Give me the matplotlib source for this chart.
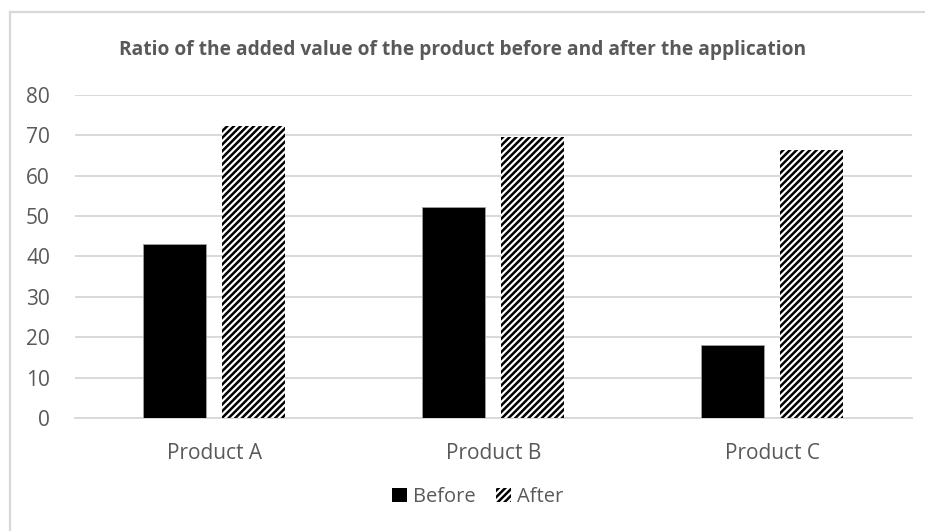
import numpy as np
import matplotlib
matplotlib.use('Agg')
import matplotlib.pyplot as plt
from matplotlib.lines import Line2D
from matplotlib.patches import Patch

# chart data
products = ['Product A', 'Product B', 'Product C']
before = [43.2, 52.3, 18.1]
after = [72.3, 69.7, 66.5]
series_names = ['Before', 'After']

plt.rcParams['font.family'] = ['Open Sans', 'DejaVu Sans']
plt.rcParams['hatch.linewidth'] = 1.8

grey_txt = '#595959'
grid_col = '#d9d9d9'

fig = plt.figure(figsize=(9.25, 5.31), dpi=100)
ax = fig.add_axes([0.081, 0.2128, 0.905, 0.6083])

x = np.arange(len(products))
w = 0.226
ax.bar(x - 0.143, before, width=w, color='black', edgecolor='#a0a0a0', linewidth=0.6, zorder=3)
ax.bar(x + 0.141, after, width=w, color='white', edgecolor='black', linewidth=0, hatch='/////', zorder=3)

ax.set_xlim(-0.5, 2.5)
ax.set_ylim(0, 80)
ax.set_yticks(range(0, 81, 10))
ax.set_xticks(x)
ax.set_xticklabels(products)
ax.yaxis.grid(True, color=grid_col, linewidth=1.4, zorder=0)
ax.set_axisbelow(True)
for s in ['top', 'right', 'left']:
    ax.spines[s].set_visible(False)
ax.spines['bottom'].set_color(grid_col)
ax.spines['bottom'].set_linewidth(1.4)
ax.tick_params(axis='both', length=0, colors=grey_txt, labelsize=15)
ax.tick_params(axis='y', pad=18)
ax.tick_params(axis='x', pad=18)

fig.text(0.5, 0.906, 'Ratio of the added value of the product before and after the application',
         ha='center', va='center', fontsize=13.8, fontweight='bold', color=grey_txt)

handles = [Patch(facecolor='black', edgecolor='black', linewidth=0),
           Patch(facecolor='white', edgecolor='black', linewidth=0, hatch='/////')]
leg = fig.legend(handles, series_names, loc='center', bbox_to_anchor=(0.516, 0.064), ncol=2,
                 frameon=False, fontsize=14.5, handlelength=0.75, handleheight=0.75,
                 handletextpad=0.3, columnspacing=1.0)
for t in leg.get_texts():
    t.set_color(grey_txt)

# outer chart frame (left and top edges visible)
fig.add_artist(Line2D([0.0105, 0.0105], [0, 0.977], transform=fig.transFigure, color=grid_col, linewidth=1.6))
fig.add_artist(Line2D([0.0105, 1.0], [0.977, 0.977], transform=fig.transFigure, color=grid_col, linewidth=1.6))

fig.savefig('out.png', dpi=100, facecolor='white')
